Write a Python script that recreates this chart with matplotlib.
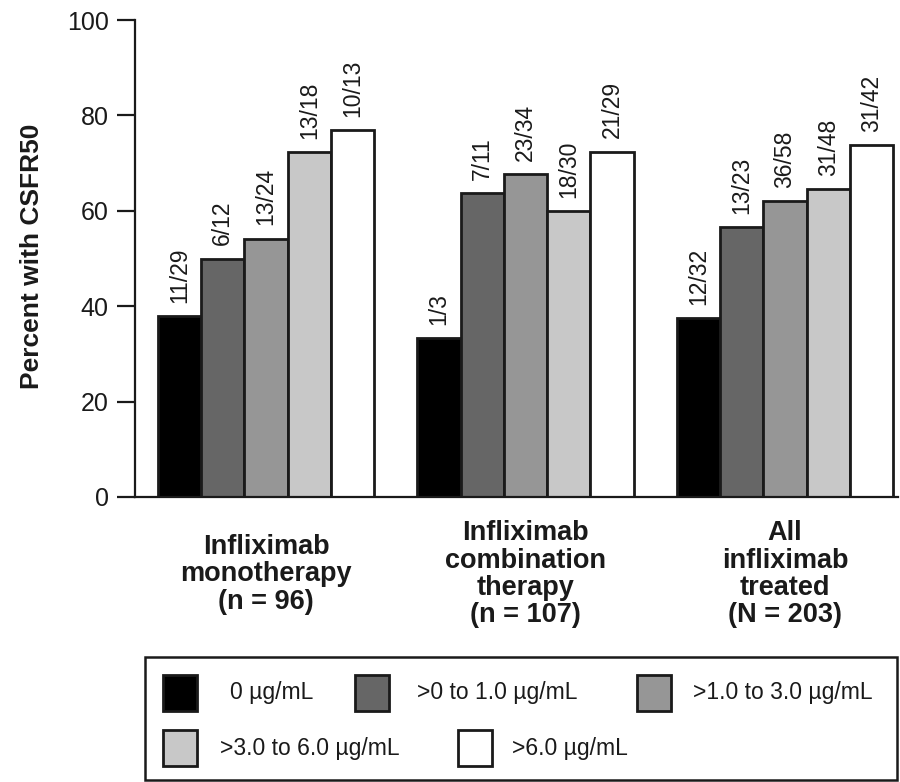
"""
Percent of patients with CSFR50 by infliximab trough level group
"""

import matplotlib
matplotlib.use('Agg')  # no display
from matplotlib import pyplot as plt
from matplotlib.patches import Rectangle

plt.rcParams['font.family'] = ['Liberation Sans', 'DejaVu Sans']

# data
groups = [
    'Infliximab\nmonotherapy\n(n = 96)',
    'Infliximab\ncombination\ntherapy\n(n = 107)',
    'All\ninfliximab\ntreated\n(N = 203)',
]
levels = ['0 µg/mL', '>0 to 1.0 µg/mL', '>1.0 to 3.0 µg/mL',
          '>3.0 to 6.0 µg/mL', '>6.0 µg/mL']
responders = [
    [11, 6, 13, 13, 10],
    [1, 7, 23, 18, 21],
    [12, 13, 36, 31, 31],
]
totals = [
    [29, 12, 24, 18, 13],
    [3, 11, 34, 30, 29],
    [32, 23, 58, 48, 42],
]
yticks = [0, 20, 40, 60, 80, 100]

colors = ['#000000', '#666666', '#969696', '#c8c8c8', '#ffffff']

fig = plt.figure(figsize=(9, 7.82), dpi=100)
ax = fig.add_axes([0.15, 1 - 497 / 782, 0.848, 477 / 782])

n_levels = len(levels)
step = n_levels + 1  # one empty slot between groups
for g in range(len(groups)):
    for k in range(n_levels):
        x = g * step + k
        pct = 100.0 * responders[g][k] / totals[g][k]
        ax.bar(x, pct, width=1.0, align='edge', color=colors[k],
               edgecolor='#1a1a1a', linewidth=2.0, zorder=2)
        ax.annotate(f'{responders[g][k]}/{totals[g][k]}',
                    xy=(x + 0.5, pct), xytext=(0, 9.5),
                    textcoords='offset points', rotation=90,
                    ha='center', va='bottom', fontsize=16.5, color='#1a1a1a')
    ax.text(g * step + n_levels / 2, -0.162, groups[g],
            transform=ax.get_xaxis_transform(), ha='center', va='center',
            fontsize=19.5, fontweight='bold', linespacing=1.07,
            color='#1a1a1a')

ax.set_xlim(-0.53, 17.12)
ax.set_ylim(0, 100)
ax.set_yticks(yticks)
ax.set_xticks([])
ax.tick_params(axis='y', length=13, width=1.6, pad=6, labelsize=18,
               colors='#1a1a1a')
for side in ['top', 'right']:
    ax.spines[side].set_visible(False)
for side in ['left', 'bottom']:
    ax.spines[side].set_linewidth(1.6)
    ax.spines[side].set_color('#1a1a1a')

fig.text(32 / 900, 1 - 256 / 782, 'Percent with CSFR50', rotation=90,
         ha='center', va='center', fontsize=19, fontweight='bold',
         color='#1a1a1a')

# legend drawn in pixel units on an overlay axes
lax = fig.add_axes([0, 0, 1, 1])
lax.set_xlim(0, 900)
lax.set_ylim(782, 0)
lax.axis('off')
lax.add_patch(Rectangle((145, 657), 752, 123, facecolor='none',
                        edgecolor='#1a1a1a', linewidth=1.8))
# (patch left, row centre, text left) for each level
legend_spots = [(163, 693, 230), (355, 693, 417), (637, 693, 693),
                (163, 748, 220), (458, 748, 512)]
for k, (px, py, tx) in enumerate(legend_spots):
    lax.add_patch(Rectangle((px, py - 18), 34, 36, facecolor=colors[k],
                            edgecolor='#1a1a1a', linewidth=2.0))
    lax.text(tx, py, levels[k], ha='left', va='center', fontsize=16.5,
             color='#1a1a1a')

plt.savefig('out.png', dpi=100, facecolor='white')
plt.close()
